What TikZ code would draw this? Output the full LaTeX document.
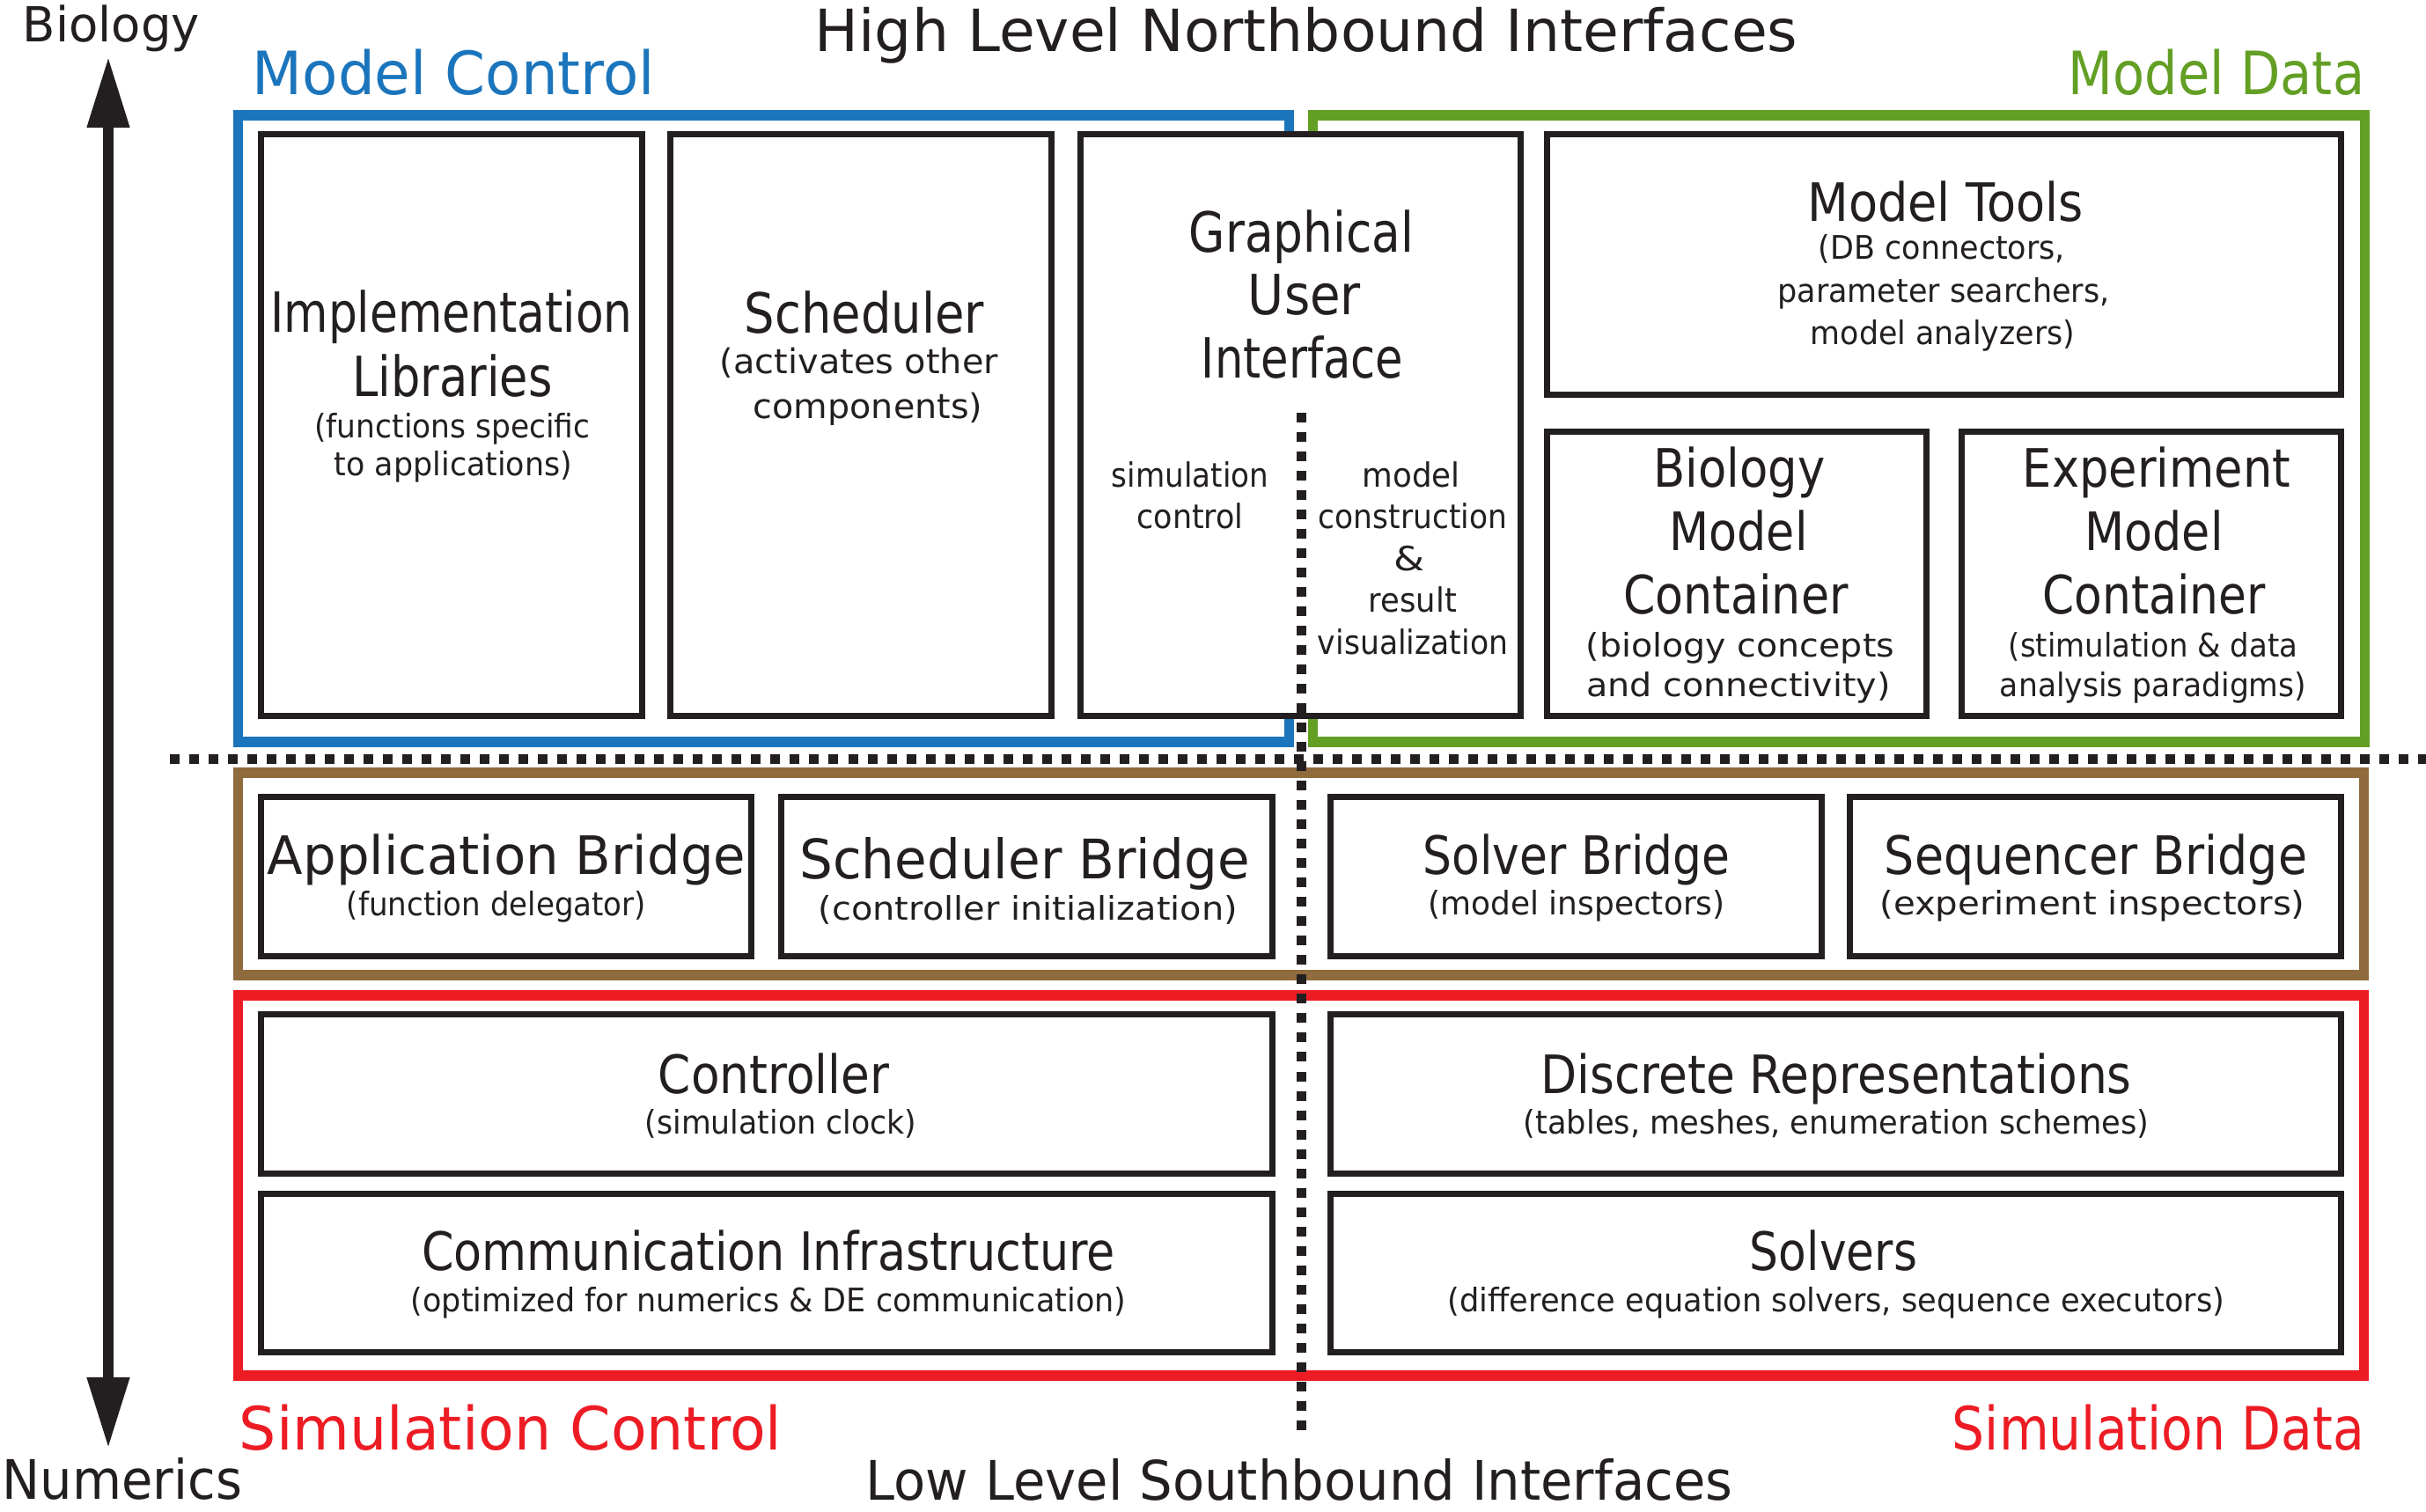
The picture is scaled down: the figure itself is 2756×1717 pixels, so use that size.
\documentclass[tikz,border=0pt]{standalone}
\usepackage{fontspec}
\setmainfont{DejaVu Sans}
\usepackage{graphicx}
\usetikzlibrary{arrows.meta}
\definecolor{ink}{HTML}{231F20}
\definecolor{mcblue}{HTML}{1B75BC}
\definecolor{mdgreen}{RGB}{99,159,36}
\definecolor{brbrown}{RGB}{144,107,62}
\definecolor{scred}{HTML}{ED1C24}
\newcommand\fs[1]{\fontsize{#1pt}{#1pt}\selectfont}
\newcommand\tw[2]{\resizebox{#1cm}{\height}{#2}}
\begin{document}
\begin{tikzpicture}[x=0.01cm,y=-0.01cm,
  txt/.style={anchor=base,inner sep=0pt,outer sep=0pt,text=ink},
  box/.style={draw=ink,line width=2pt,fill=white,inner sep=0pt,outer sep=0pt},
  grp/.style={line width=3.27pt,inner sep=0pt,outer sep=0pt},
  dots/.style={ink,line width=3.13pt,dash pattern=on 3.13pt off 3.13pt},
  axis/.style={ink,line width=3.13pt,{Triangle[length=0.8cm,width=0.46cm]}-{Triangle[length=0.8cm,width=0.46cm]}}]
\useasboundingbox[fill=white] (0,0) rectangle (2756,1717);

% group frames
\node[grp,draw=mcblue,minimum width=11.93cm,minimum height=7.12cm] (blue) at (867.5,487) {};
\node[grp,draw=mdgreen,minimum width=11.94cm,minimum height=7.12cm] (green) at (2089,487) {};
\node[grp,draw=brbrown,minimum width=24.14cm,minimum height=2.30cm] (brown) at (1478,993) {};
\node[grp,draw=scred,minimum width=24.14cm,minimum height=4.32cm] (red) at (1478,1347) {};

% component boxes
\node[box,minimum width=4.32cm,minimum height=6.60cm] (impl) at (513,483) {};
\node[box,minimum width=4.32cm,minimum height=6.60cm] (sched) at (978,483) {};
\node[box,minimum width=4.99cm,minimum height=6.60cm] (gui) at (1477.5,483) {};
\node[box,minimum width=9.01cm,minimum height=2.95cm] (tools) at (2208.5,300.5) {};
\node[box,minimum width=4.30cm,minimum height=3.22cm] (bmc) at (1973,652) {};
\node[box,minimum width=4.30cm,minimum height=3.22cm] (emc) at (2444,652) {};
\node[box,minimum width=5.56cm,minimum height=1.80cm] (appb) at (575,996) {};
\node[box,minimum width=5.57cm,minimum height=1.80cm] (schb) at (1166.5,996) {};
\node[box,minimum width=5.57cm,minimum height=1.80cm] (solb) at (1790.5,996) {};
\node[box,minimum width=5.57cm,minimum height=1.80cm] (seqb) at (2380.5,996) {};
\node[box,minimum width=11.48cm,minimum height=1.80cm] (ctrl) at (871,1243) {};
\node[box,minimum width=11.48cm,minimum height=1.79cm] (comm) at (871,1446.5) {};
\node[box,minimum width=11.47cm,minimum height=1.80cm] (disc) at (2085.5,1243) {};
\node[box,minimum width=11.47cm,minimum height=1.79cm] (solv) at (2085.5,1446.5) {};

% outer labels
\node[txt] (lbio) at (126.5,47) {\fs{15.6}\tw{2.01}{Biology}};
\node[txt] (lnum) at (139,1703) {\fs{17.6}\tw{2.72}{Numerics}};
\node[txt] (lhigh) at (1484,58) {\fs{18.8}\tw{11.16}{High Level Northbound Interfaces}};
\node[txt] (llow) at (1476,1704) {\fs{17.6}\tw{9.84}{Low Level Southbound Interfaces}};
\node[txt,text=mcblue] (lmc) at (515.5,107) {\fs{19.3}\tw{4.57}{Model Control}};
\node[txt,text=mdgreen] (lmd) at (2518,107) {\fs{19.3}\tw{3.36}{Model Data}};
\node[txt,text=scred] (lsc) at (580,1647) {\fs{19.3}\tw{6.16}{Simulation Control}};
\node[txt,text=scred] (lsd) at (2452,1647) {\fs{19.3}\tw{4.68}{Simulation Data}};

% Implementation Libraries
\node[txt] (ti1) at (513,377) {\fs{17.9}\tw{4.11}{Implementation}};
\node[txt] (ti2) at (514,450) {\fs{17.9}\tw{2.27}{Libraries}};
\node[txt] (ti3) at (514,497) {\fs{10.5}\tw{3.13}{(functions specific}};
\node[txt] (ti4) at (515,540) {\fs{10.5}\tw{2.70}{to applications)}};
% Scheduler
\node[txt] (ts1) at (982,378) {\fs{17.9}\tw{2.72}{Scheduler}};
\node[txt] (ts2) at (976,424) {\fs{11}\tw{3.16}{(activates other}};
\node[txt] (ts3) at (986,475) {\fs{11}\tw{2.60}{components)}};
% GUI
\node[txt] (tg1) at (1478.5,286) {\fs{17.9}\tw{2.55}{Graphical}};
\node[txt] (tg2) at (1482,357) {\fs{17.9}\tw{1.28}{User}};
\node[txt] (tg3) at (1479.5,429) {\fs{17.9}\tw{2.29}{Interface}};
\node[txt] (tg4) at (1352,553) {\fs{10.8}\tw{1.78}{simulation}};
\node[txt] (tg5) at (1352,600) {\fs{10.8}\tw{1.21}{control}};
\node[txt] (tg6) at (1603,553) {\fs{10.8}\tw{1.11}{model}};
\node[txt] (tg7) at (1605,600) {\fs{10.8}\tw{2.14}{construction}};
\node[txt] (tg8) at (1601,648) {\fs{10.8}\tw{0.35}{\&}};
\node[txt] (tg9) at (1605,695) {\fs{10.8}\tw{1.00}{result}};
\node[txt] (tg10) at (1605,743) {\fs{10.8}\tw{2.16}{visualization}};
% Model Tools
\node[txt] (tt1) at (2210,251) {\fs{17.1}\tw{3.13}{Model Tools}};
\node[txt] (tt2) at (2206,294) {\fs{10.5}\tw{2.80}{(DB connectors,}};
\node[txt] (tt3) at (2208,343) {\fs{10.5}\tw{3.77}{parameter searchers,}};
\node[txt] (tt4) at (2207,391) {\fs{10.5}\tw{3.00}{model analyzers)}};
% Biology Model Container
\node[txt] (tb1) at (1976,553) {\fs{17.1}\tw{1.95}{Biology}};
\node[txt] (tb2) at (1975,625) {\fs{17.1}\tw{1.57}{Model}};
\node[txt] (tb3) at (1972,697) {\fs{17.1}\tw{2.55}{Container}};
\node[txt] (tb4) at (1977,746) {\fs{10.5}\tw{3.50}{(biology concepts}};
\node[txt] (tb5) at (1975,791) {\fs{10.5}\tw{3.45}{and connectivity)}};
% Experiment Model Container
\node[txt] (te1) at (2450,553) {\fs{17.1}\tw{3.04}{Experiment}};
\node[txt] (te2) at (2447,625) {\fs{17.1}\tw{1.57}{Model}};
\node[txt] (te3) at (2447,697) {\fs{17.1}\tw{2.53}{Container}};
\node[txt] (te4) at (2446,746) {\fs{10.5}\tw{3.28}{(stimulation \& data}};
\node[txt] (te5) at (2446,791) {\fs{10.5}\tw{3.48}{analysis paradigms)}};
% Bridges
\node[txt] (ta1) at (575.5,993) {\fs{17.1}\tw{5.43}{Application Bridge}};
\node[txt] (ta2) at (564,1040) {\fs{10.5}\tw{3.40}{(function delegator)}};
\node[txt] (tc1) at (1164,998) {\fs{17.6}\tw{5.11}{Scheduler Bridge}};
\node[txt] (tc2) at (1168,1045) {\fs{10.5}\tw{4.76}{(controller initialization)}};
\node[txt] (tv1) at (1791,993) {\fs{17.1}\tw{3.48}{Solver Bridge}};
\node[txt] (tv2) at (1791,1039) {\fs{10.5}\tw{3.37}{(model inspectors)}};
\node[txt] (tq1) at (2381,993) {\fs{17.1}\tw{4.80}{Sequencer Bridge}};
\node[txt] (tq2) at (2377,1039) {\fs{10.5}\tw{4.83}{(experiment inspectors)}};
% Lower layer
\node[txt] (tk1) at (879,1242) {\fs{17.1}\tw{2.62}{Controller}};
\node[txt] (tk2) at (887,1288) {\fs{10.5}\tw{3.08}{(simulation clock)}};
\node[txt] (tm1) at (873,1443) {\fs{17.1}\tw{7.87}{Communication Infrastructure}};
\node[txt] (tm2) at (873,1490) {\fs{10.5}\tw{8.12}{(optimized for numerics \& DE communication)}};
\node[txt] (td1) at (2086,1242) {\fs{17.1}\tw{6.71}{Discrete Representations}};
\node[txt] (td2) at (2086,1288) {\fs{10.5}\tw{7.10}{(tables, meshes, enumeration schemes)}};
\node[txt] (tr1) at (2083,1443) {\fs{17.1}\tw{1.90}{Solvers}};
\node[txt] (tr2) at (2086,1490) {\fs{10.5}\tw{8.82}{(difference equation solvers, sequence executors)}};

% dotted separators
\coordinate (hl) at (193,862);
\coordinate (hr) at (2756,862);
\coordinate (vt) at (1478,469);
\coordinate (vb) at (1478,1635);
\draw[dots] (hl) -- (hr);
\draw[dots] (vt) -- (vb);

% Biology-Numerics axis
\coordinate (atop) at (123,65);
\coordinate (abot) at (123,1645);
\draw[axis] (atop) -- (abot);
\end{tikzpicture}
\end{document}
